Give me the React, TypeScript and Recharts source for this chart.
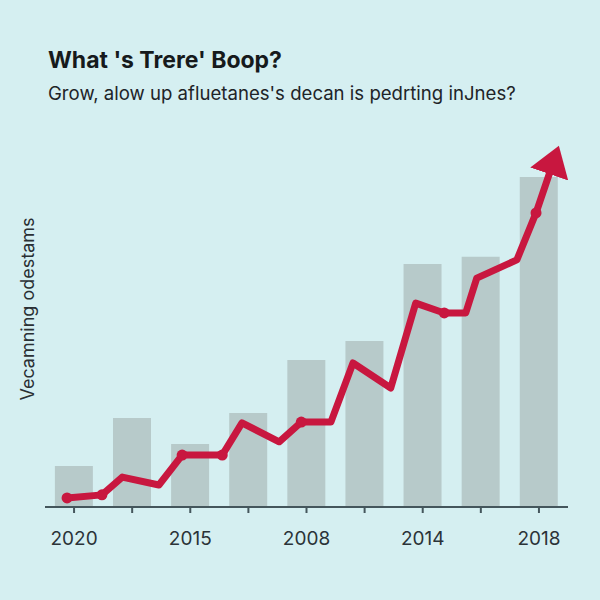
import React from "react";
import { ComposedChart, Bar, Line, XAxis, YAxis } from "recharts";

const tickLabels = ["2020", "", "2015", "", "2008", "", "2014", "", "2018"];
const barValues = [10.8, 23.5, 16.6, 24.8, 38.8, 43.8, 64.1, 66.0, 87.1];

const lineX = [0.38, 0.98, 1.33, 1.96, 2.36, 3.05, 3.39, 4.03, 4.41, 4.92, 5.3, 5.95, 6.38, 6.87, 7.24, 7.43, 8.12, 8.45, 8.76];
const lineY = [2.4, 3.2, 7.9, 5.8, 13.7, 13.7, 22.2, 17.2, 22.4, 22.4, 38.0, 31.4, 53.8, 51.2, 51.2, 60.4, 65.2, 77.6, 91.6];
const lineDots = [1, 1, 0, 0, 1, 1, 0, 0, 1, 0, 0, 0, 0, 1, 0, 0, 0, 1, 0];

const barData = barValues.map((v, i) => ({ idx: i, value: v }));
const lineData = lineX.map((x, i) => ({ x, y: lineY[i], dot: lineDots[i] }));

const BG = "#d5eff1";
const RED = "#c8173f";
const AXIS = "#44565c";
const FONT = "Inter, 'Liberation Sans', Arial, sans-serif";

const renderDot = (props: any) => {
  const { cx, cy, payload, index } = props;
  if (!payload || !payload.dot) return <g key={`d${index}`} />;
  return <circle key={`d${index}`} cx={cx} cy={cy} r={5.5} fill={RED} />;
};

export default function App() {
  return (
    <div
      style={{
        position: "fixed",
        left: 0,
        top: 0,
        width: 600,
        height: 600,
        background: BG,
        fontFamily: FONT,
        overflow: "hidden",
      }}
    >
      <div
        style={{
          position: "absolute",
          left: 48,
          top: 47,
          fontSize: 23,
          fontWeight: 700,
          color: "#161a1c",
          whiteSpace: "nowrap",
          lineHeight: "26px",
        }}
      >
        What 's Trere' Boop?
      </div>
      <div
        style={{
          position: "absolute",
          left: 48,
          top: 82,
          fontSize: 18.6,
          color: "#1e2428",
          whiteSpace: "nowrap",
          lineHeight: "22px",
        }}
      >
        Grow, alow up afluetanes's decan is pedrting inJnes?
      </div>
      <div
        style={{
          position: "absolute",
          left: 27,
          top: 309,
          transform: "translate(-50%, -50%) rotate(-90deg)",
          fontSize: 18,
          color: "#2a3034",
          whiteSpace: "nowrap",
        }}
      >
        Vecamning odestams
      </div>
      <div style={{ position: "absolute", left: 0, top: 0 }}>
        <ComposedChart
          width={600}
          height={600}
          data={barData}
          margin={{ top: 128, right: 32, bottom: 33, left: 45 }}
          barCategoryGap="17%"
        >
          <defs>
            <marker
              id="arrowHead"
              markerWidth={32}
              markerHeight={42}
              refX={15}
              refY={21}
              orient="auto"
              markerUnits="userSpaceOnUse"
            >
              <path d="M0,1 L30,21 L0,41 Z" fill={RED} />
            </marker>
          </defs>
          <XAxis
            xAxisId="cat"
            dataKey="idx"
            type="category"
            interval={0}
            tickFormatter={(_v: any, i: number) => tickLabels[i]}
            axisLine={{ stroke: AXIS, strokeWidth: 2 }}
            tickLine={{ stroke: AXIS, strokeWidth: 2 }}
            tickSize={6}
            tickMargin={19}
            tick={{ fill: "#2b3338", fontSize: 19, fontFamily: FONT }}
            height={60}
          />
          <XAxis xAxisId="num" type="number" dataKey="x" domain={[0, 9]} hide allowDataOverflow />
          <YAxis
            domain={[0, 100]}
            width={0}
            tick={false}
            tickLine={false}
            axisLine={{ stroke: AXIS, strokeWidth: 2 }}
            allowDataOverflow
          />
          <Bar xAxisId="cat" dataKey="value" fill="#b7caca" isAnimationActive={false} />
          <Line
            xAxisId="num"
            data={lineData}
            dataKey="y"
            type="linear"
            stroke={RED}
            strokeWidth={7}
            strokeLinejoin="round"
            strokeLinecap="round"
            dot={renderDot}
            activeDot={false}
            markerEnd="url(#arrowHead)"
            isAnimationActive={false}
          />
        </ComposedChart>
      </div>
    </div>
  );
}
